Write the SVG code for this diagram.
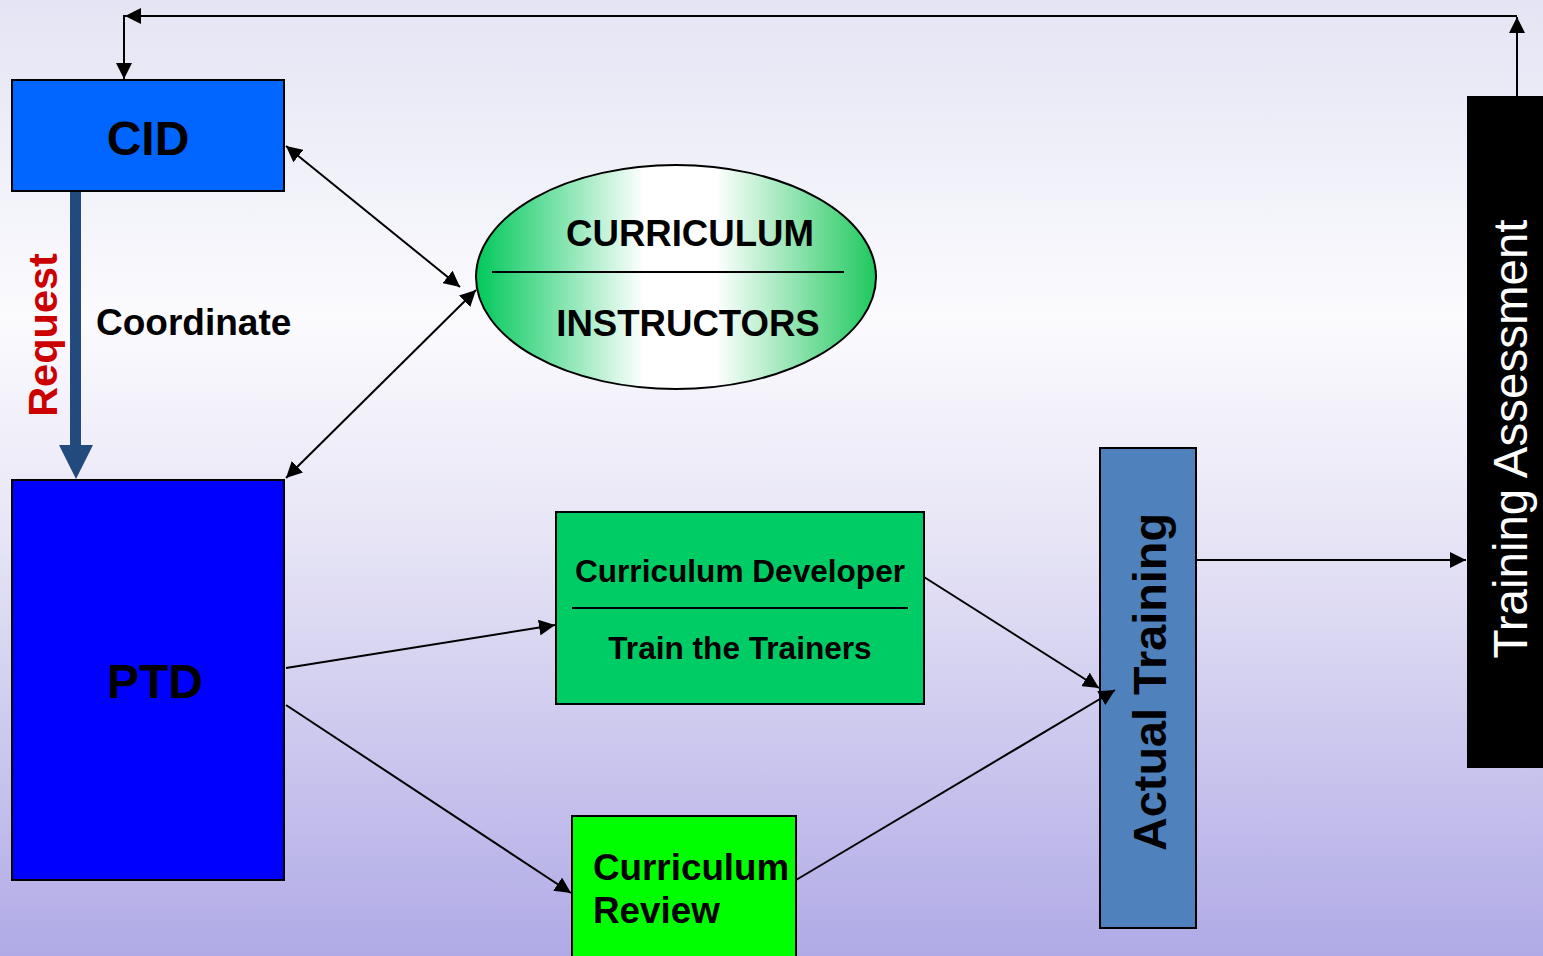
<svg xmlns="http://www.w3.org/2000/svg" width="1543" height="956" viewBox="0 0 1543 956">
<defs>
<linearGradient id="bg" x1="0" y1="0" x2="0" y2="1">
<stop offset="0" stop-color="#e4e4f4"/>
<stop offset="0.33" stop-color="#fbfbfe"/>
<stop offset="0.55" stop-color="#e8e6f6"/>
<stop offset="1" stop-color="#b0aae6"/>
</linearGradient>
<linearGradient id="ell" x1="0" y1="0" x2="1" y2="0">
<stop offset="0" stop-color="#00c85a"/>
<stop offset="0.42" stop-color="#ffffff"/>
<stop offset="0.6" stop-color="#ffffff"/>
<stop offset="1" stop-color="#1fc85e"/>
</linearGradient>
<marker id="ah" viewBox="0 0 10 10" refX="10" refY="5" markerWidth="16" markerHeight="16" markerUnits="userSpaceOnUse" orient="auto-start-reverse">
<path d="M0,0 L10,5 L0,10 z" fill="#000"/>
</marker>
<style>
.b{font-family:"Liberation Sans",Arial,sans-serif;font-weight:bold;fill:#000}
.ln{stroke:#000;stroke-width:2;fill:none}
.box{stroke:#000;stroke-width:2}
</style>
</defs>
<rect x="0" y="0" width="1543" height="956" fill="url(#bg)"/>

<g id="cid">
<rect class="box" x="12" y="80" width="272" height="111" fill="#0066ff"/>
<text class="b" x="148" y="155" font-size="48" text-anchor="middle">CID</text>
</g>

<g id="ptd">
<rect class="box" x="12" y="480" width="272" height="400" fill="#0000ff"/>
<text class="b" x="155" y="698" font-size="48" text-anchor="middle">PTD</text>
</g>

<g id="curriculum-instructors">
<ellipse cx="676" cy="277" rx="200" ry="112" fill="url(#ell)" stroke="#000" stroke-width="2"/>
<line class="ln" x1="492" y1="272" x2="844" y2="272"/>
<text class="b" x="690" y="246" font-size="36.6" text-anchor="middle">CURRICULUM</text>
<text class="b" x="688" y="336" font-size="36.6" text-anchor="middle">INSTRUCTORS</text>
</g>

<g id="curriculum-developer">
<rect class="box" x="556" y="512" width="368" height="192" fill="#00cc66"/>
<line class="ln" x1="572" y1="608" x2="908" y2="608"/>
<text class="b" x="740" y="582" font-size="31.6" text-anchor="middle">Curriculum Developer</text>
<text class="b" x="740" y="659" font-size="31.6" text-anchor="middle">Train the Trainers</text>
</g>

<g id="curriculum-review">
<rect class="box" x="572" y="816" width="224" height="150" fill="#00ff00"/>
<text class="b" x="593" y="880" font-size="36.8">Curriculum</text>
<text class="b" x="593" y="923" font-size="36.8">Review</text>
</g>

<g id="actual-training">
<rect class="box" x="1100" y="448" width="96" height="480" fill="#4f81bd"/>
<text class="b" x="0" y="0" font-size="46.8" text-anchor="middle" transform="translate(1166,682) rotate(-90)">Actual Training</text>
</g>

<g id="training-assessment">
<rect x="1467" y="96" width="80" height="672" fill="#000"/>
<text x="0" y="0" font-family="Liberation Sans, Arial, sans-serif" font-size="47.5" fill="#fff" text-anchor="middle" transform="translate(1527,439) rotate(-90)">Training Assessment</text>
</g>

<g id="connectors">
<line class="ln" x1="1517" y1="96" x2="1517" y2="17" marker-end="url(#ah)"/>
<line class="ln" x1="1517" y1="16" x2="125" y2="16" marker-end="url(#ah)"/>
<line class="ln" x1="124" y1="15" x2="124" y2="79" marker-end="url(#ah)"/>
<line class="ln" x1="286" y1="146" x2="460" y2="287" marker-start="url(#ah)" marker-end="url(#ah)"/>
<line class="ln" x1="286" y1="478" x2="476" y2="290" marker-start="url(#ah)" marker-end="url(#ah)"/>
<line class="ln" x1="286" y1="668" x2="555" y2="625" marker-end="url(#ah)"/>
<line class="ln" x1="286" y1="705" x2="571" y2="893" marker-end="url(#ah)"/>
<line class="ln" x1="924" y1="577" x2="1099" y2="688" marker-end="url(#ah)"/>
<line class="ln" x1="796" y1="880" x2="1115" y2="690" marker-end="url(#ah)"/>
<line class="ln" x1="1196" y1="560" x2="1466" y2="560" marker-end="url(#ah)"/>
<path d="M70,192 L81,192 L81,445 L93,445 L76,479 L59,445 L70,445 z" fill="#224a7d"/>
<text class="b" x="0" y="0" font-size="41.5" style="fill:#cc0000" text-anchor="middle" transform="translate(57,335) rotate(-90)">Request</text>
<text class="b" x="96" y="335" font-size="37">Coordinate</text>
</g>
</svg>
